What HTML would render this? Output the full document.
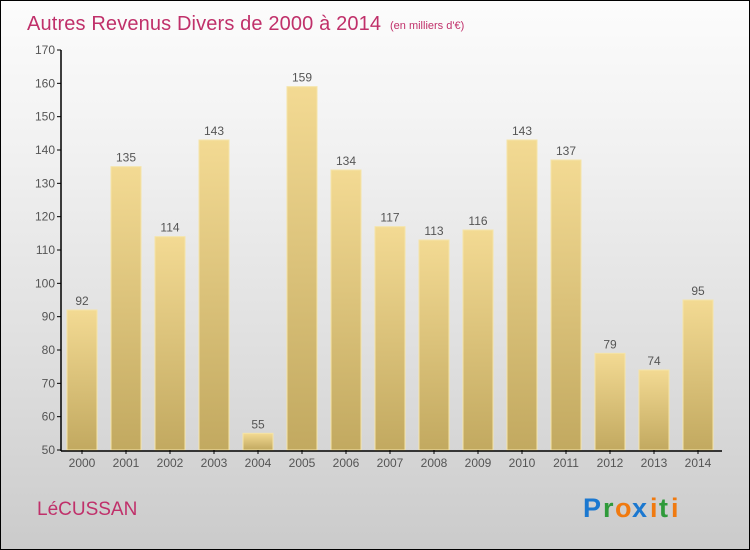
<!DOCTYPE html>
<html><head><meta charset="utf-8"><style>
body{margin:0}
#c{width:748px;height:548px;border:1px solid #000;background:linear-gradient(#fcfcfc,#f2f2f2 25%,#dcdcdc 70%,#cbcbcb);position:relative;overflow:hidden;font-family:"Liberation Sans",sans-serif}
</style></head><body>
<div id="c">
<svg width="748" height="548" style="position:absolute;left:0;top:0" id="svg">
<defs><linearGradient id="g" x1="0" y1="0" x2="0" y2="1"><stop offset="0" stop-color="#f3da93"/><stop offset="1" stop-color="#c2a960"/></linearGradient></defs>
<text x="26" y="29" font-size="20" fill="#c0306a" textLength="354">Autres Revenus Divers de 2000 à 2014</text>
<text x="389" y="28" font-size="11" fill="#c0306a">(en milliers d'€)</text>
<text x="36" y="514" font-size="19" fill="#c0306a">LéCUSSAN</text>
<g font-size="27" font-weight="bold">
<text x="582" y="516" fill="#1b78d0">P</text><text x="602" y="516" fill="#2f9a3a">r</text><text x="614" y="516" fill="#f07a10">o</text><text x="631" y="516" fill="#1b78d0">x</text><text x="649" y="516" fill="#f07a10">i</text><text x="658" y="516" fill="#2f9a3a">t</text><text x="670" y="516" fill="#f07a10">i</text>
</g>
<g id="plot"></g>
</svg>
</div>
<script>
const categories=["2000","2001","2002","2003","2004","2005","2006","2007","2008","2009","2010","2011","2012","2013","2014"];
const values=[92,135,114,143,55,159,134,117,113,116,143,137,79,74,95];
const yTicks=[50,60,70,80,90,100,110,120,130,140,150,160,170];
const NS="http://www.w3.org/2000/svg";
const g=document.getElementById('plot');
const y=v=>449-(v-50)*400/120;
const x=i=>81+i*44;
function el(t,a,txt){const e=document.createElementNS(NS,t);for(const k in a)e.setAttribute(k,a[k]);if(txt!=null)e.textContent=txt;g.appendChild(e);return e;}
yTicks.forEach(t=>{
 const l=el('line',{x1:56,x2:60,y1:y(t),y2:y(t),stroke:'#000'});
 
 
 const tx=el('text',{x:54,y:y(t)+4,'text-anchor':'end','font-size':12,fill:'#555'},t);
 
 
});
values.forEach((v,i)=>{
 const r=el('rect',{x:x(i)-15,y:y(v),width:30,height:y(50)-y(v),fill:'url(#g)',stroke:'#f5e4a8','stroke-width':1});
 
 
 const t=el('text',{x:x(i),y:y(v)-5,'text-anchor':'middle','font-size':12,fill:'#555'},v);
 
 
 const tk=el('line',{x1:x(i),x2:x(i),y1:449,y2:453,stroke:'#000'});
 
 
 const c=el('text',{x:x(i),y:466,'text-anchor':'middle','font-size':12,fill:'#555'},categories[i]);
 
 
});
const ya=el('line',{x1:60,x2:60,y1:49,y2:450,stroke:'#000','stroke-width':1.5});


const xa=el('line',{x1:60,x2:721,y1:450,y2:450,stroke:'#000','stroke-width':1.5});


</script>
</body></html>
